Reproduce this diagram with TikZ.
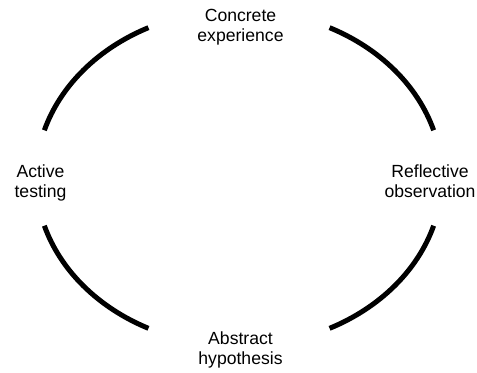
\documentclass[tikz,border=0pt]{standalone}
\usepackage{fontspec}
\setmainfont{Liberation Sans}
\begin{document}
\begin{tikzpicture}[x=0.75pt,y=0.75pt,
  arcline/.style={line width=3.75pt,line cap=butt,black},
  lbl/.style={align=center,inner sep=0pt,font=\fontsize{13.2}{15}\selectfont}]
\useasboundingbox (0,0) rectangle (477,372);
\coordinate (c) at (239,194);
\draw[arcline] ([shift={(116.5:203 and 168)}]c) arc[start angle=116.5,end angle=163.5,x radius=203,y radius=168];
\draw[arcline] ([shift={(16.5:203 and 168)}]c) arc[start angle=16.5,end angle=63.5,x radius=203,y radius=168];
\draw[arcline] ([shift={(-16.5:203 and 168)}]c) arc[start angle=-16.5,end angle=-63.5,x radius=203,y radius=168];
\draw[arcline] ([shift={(196.5:203 and 168)}]c) arc[start angle=196.5,end angle=243.5,x radius=203,y radius=168];
\node[lbl] (ce) at (240.5,372-27.3) {Concrete\\experience};
\node[lbl] (ro) at (430,372-181.5) {Reflective\\observation};
\node[lbl] (ah) at (240.5,372-350) {Abstract\\hypothesis};
\node[lbl] (at) at (40.5,372-183) {Active\\testing};
\end{tikzpicture}
\end{document}
